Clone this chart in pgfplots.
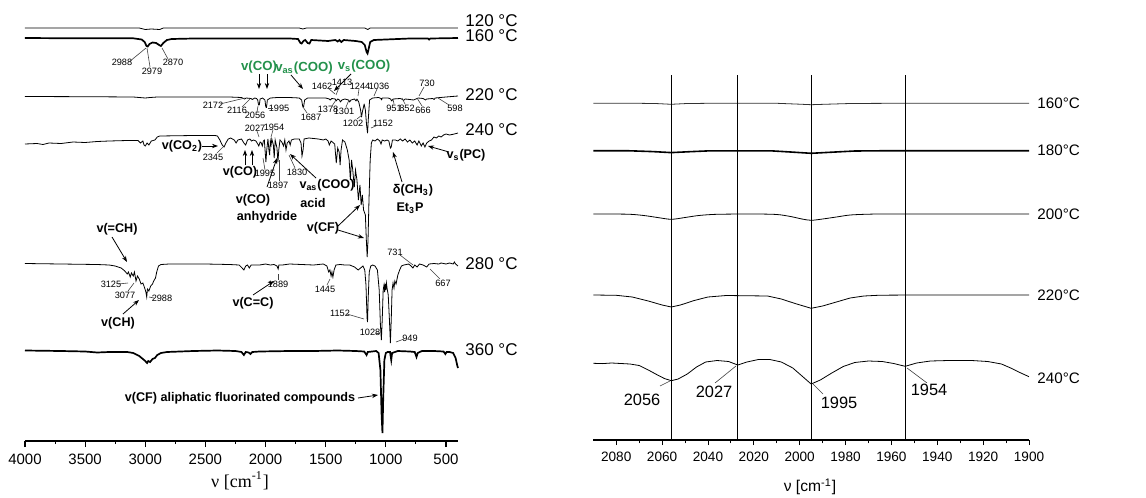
\documentclass[border=0pt]{standalone}
\usepackage{fontspec}
\setmainfont{Liberation Sans}
\newfontfamily\seriffont{Liberation Serif}
\usepackage{pgfplots}
\pgfplotsset{compat=1.18}
\usetikzlibrary{arrows.meta}
\definecolor{lblgreen}{RGB}{35,145,75}
\definecolor{rtrace}{RGB}{50,50,50}
\newcommand\sm{\fontsize{4.6}{5}\selectfont}
\newcommand\bl{\fontsize{6.3}{7}\selectfont\bfseries}
\newcommand\gl{\fontsize{6.6}{7}\selectfont\bfseries\color{lblgreen}}
\newcommand\tl{\fontsize{8.5}{10}\selectfont}
\newcommand\tr{\fontsize{7.6}{8}\selectfont}
\newcommand\rl{\fontsize{8.2}{9}\selectfont}
\newcommand\lab[3]{\node[font=\sm, inner sep=0pt] at (#1,#2) {#3};}
\newcommand\lead[4]{\draw[line width=0.3pt, black!75] (#1,#2)--(#3,#4);}
\newcommand\arr[4]{\draw[line width=0.4pt, -{Stealth[length=3pt,width=2.2pt]}] (#1,#2)--(#3,#4);}
\begin{document}
\begin{tikzpicture}
\path[use as bounding box] (0,0) rectangle (573pt,-249pt);
% ---------------- left panel ----------------
\begin{axis}[at={(12.5pt,-220.5pt)}, anchor=south west, scale only axis,
  width=216.5pt, height=213pt, xmin=400, xmax=4000, x dir=reverse,
  ymin=-441, ymax=-15, axis x line=bottom, axis y line=none,
  axis line style={-, line width=0.65pt},
  xtick={500,1000,...,4000}, minor x tick num=1, tick align=outside,
  major tick length=3pt, minor tick length=1.5pt,
  tick style={line width=0.55pt, black},
  ticklabel style={font=\fontsize{7.5}{8}\selectfont},
  /pgf/number format/1000 sep={}, /pgf/number format/assume math mode=true,
  clip=false,
  cycle list={{black, line width=0.85pt, line join=round, mark=none}}]
% 120 C
\addplot coordinates {(4000,-28)(3500,-28)(3050,-28)(3000,-29.5)(2950,-29)(2880,-29.5)(2850,-28)(1720,-28)(1690,-29)(1660,-28)(1175,-28)(1150,-29.5)(1130,-28)(400,-28)};
% 160 C
\addplot coordinates {(4000,-38)(3600,-38.3)(3100,-38.3)(3030,-39.5)(3005,-42)(2990,-46)(2980,-46.5)(2965,-44)(2940,-42.5)(2910,-43)(2885,-45)(2870,-46)(2850,-43)(2820,-40)(2780,-39)(2600,-38.5)(2000,-38.5)(1800,-38.5)(1730,-39)(1710,-43)(1700,-43.5)(1685,-41)(1670,-40)(1650,-43)(1635,-43.5)(1620,-40)(1550,-40.5)(1480,-41)(1420,-40)(1400,-41.5)(1385,-40)(1370,-42)(1350,-40)(1300,-40.5)(1250,-41)(1200,-42)(1175,-45)(1160,-52)(1152,-53.5)(1145,-50)(1130,-42)(1100,-40)(1000,-39.5)(900,-39)(800,-38.5)(650,-38.5)(640,-39.5)(630,-38.5)(400,-38)};
% 220 C
\addplot coordinates {(4000,-96.5)(3500,-96.7)(3100,-97)(3000,-98)(2960,-97.5)(2900,-97)(2500,-97)(2300,-97)(2200,-97.5)(2175,-99)(2160,-98)(2120,-98.5)(2110,-99.5)(2090,-98)(2075,-98.5)(2065,-100)(2058,-105)(2052,-105)(2045,-99)(2025,-98)(2005,-100)(1998,-107)(1992,-107.5)(1985,-100)(1960,-98)(1900,-97.5)(1800,-97.5)(1720,-98)(1700,-100)(1690,-107)(1684,-107)(1675,-100)(1650,-98)(1500,-98)(1470,-99)(1462,-100)(1450,-98.5)(1420,-99)(1413,-101)(1400,-99)(1385,-100)(1378,-102)(1365,-100)(1340,-99)(1310,-100)(1301,-102)(1290,-100)(1260,-99)(1248,-101)(1240,-99)(1225,-102)(1210,-110)(1202,-117)(1195,-112)(1180,-104)(1170,-110)(1160,-125)(1152,-133)(1146,-120)(1135,-100)(1110,-98)(1060,-97.5)(1040,-98.5)(1036,-100)(1030,-98)(980,-98)(960,-99)(951,-101)(940,-99)(880,-98.5)(860,-99.5)(852,-100.5)(840,-99)(800,-99.5)(770,-100)(740,-98.5)(730,-98)(690,-98.5)(670,-100)(660,-99)(610,-98.5)(598,-99.5)(590,-98)(500,-97)(450,-96.5)(400,-96)};
% 240 C
\addplot coordinates {(4000,-144)(3900,-143.5)(3850,-144.5)(3800,-143)(3700,-143.5)(3600,-142)(3500,-142.5)(3400,-141.5)(3300,-141)(3150,-140.5)(3060,-140.5)(3040,-143)(3020,-141)(3010,-145)(3000,-146)(2985,-143)(2970,-145)(2950,-141)(2920,-140)(2900,-137)(2880,-136)(2600,-135.5)(2420,-135.5)(2400,-136)(2380,-140)(2360,-145)(2345,-147)(2330,-143)(2310,-139)(2290,-138)(2260,-140)(2245,-143)(2230,-140)(2200,-139)(2180,-143)(2165,-145)(2150,-140)(2130,-139)(2116,-141)(2100,-140)(2080,-141)(2065,-144)(2056,-146)(2045,-142)(2035,-143)(2027,-146)(2018,-141)(2010,-140)(2003,-152)(1997,-162)(1990,-150)(1980,-139)(1972,-150)(1966,-155)(1960,-141)(1954,-145)(1948,-139)(1935,-145)(1928,-158)(1920,-140)(1905,-148)(1897,-162)(1890,-150)(1880,-140)(1865,-142)(1850,-146)(1840,-140)(1830,-150)(1820,-143)(1805,-141)(1795,-145)(1785,-140)(1760,-139)(1720,-139)(1705,-143)(1697,-156)(1688,-150)(1680,-139)(1640,-138)(1600,-138.5)(1560,-139)(1520,-140)(1500,-139)(1480,-141)(1470,-145)(1455,-141)(1425,-144)(1412,-163)(1400,-148)(1388,-152)(1380,-165)(1372,-150)(1360,-140)(1340,-142)(1320,-150)(1305,-160)(1295,-180)(1285,-160)(1275,-170)(1262,-187)(1252,-170)(1240,-180)(1228,-200)(1215,-185)(1205,-205)(1195,-195)(1185,-210)(1170,-215)(1162,-240)(1155,-257)(1148,-240)(1140,-200)(1130,-160)(1120,-143)(1110,-140)(1090,-141)(1070,-139)(1050,-141)(1040,-144)(1030,-140)(1010,-141)(990,-140)(975,-141)(962,-148)(955,-147)(945,-140)(920,-140)(900,-141)(880,-139)(860,-141)(840,-139)(820,-142)(800,-140)(780,-143)(760,-141)(740,-145)(725,-141)(705,-146)(690,-143)(675,-147)(660,-143)(640,-141)(620,-140)(600,-137)(580,-138)(560,-136)(540,-137)(520,-135)(500,-134)(470,-135)(430,-134)(400,-133)};
% 280 C
\addplot coordinates {(4000,-263.5)(3700,-264)(3400,-264.5)(3300,-265)(3250,-266)(3200,-268)(3170,-271)(3150,-274)(3140,-272)(3125,-277)(3115,-273)(3100,-276)(3090,-272)(3077,-281)(3065,-276)(3050,-279)(3035,-284)(3020,-283)(3005,-288)(2995,-292)(2988,-297)(2982,-289)(2970,-291)(2955,-286)(2940,-284)(2930,-281)(2915,-278)(2905,-272)(2890,-266)(2870,-264.5)(2800,-264)(2500,-264)(2300,-264.5)(2220,-265)(2195,-268)(2180,-270)(2165,-266)(2150,-265)(2135,-268)(2120,-265)(2050,-265)(2000,-264)(1960,-265)(1930,-264.5)(1905,-266)(1895,-269)(1889,-265)(1860,-265)(1800,-264)(1700,-264.5)(1600,-265)(1520,-264)(1490,-266)(1475,-272)(1465,-270)(1455,-276)(1448,-272)(1440,-277)(1430,-270)(1415,-265)(1380,-264.5)(1340,-265)(1300,-265)(1260,-267)(1230,-270)(1210,-268)(1190,-266)(1175,-270)(1165,-285)(1156,-318)(1152,-322)(1147,-300)(1138,-272)(1125,-266)(1110,-265)(1090,-266)(1070,-270)(1055,-290)(1045,-325)(1037,-340)(1030,-320)(1022,-290)(1015,-285)(1010,-292)(1005,-284)(1000,-290)(995,-283)(990,-288)(980,-295)(970,-320)(962,-343)(955,-320)(948,-290)(940,-283)(932,-288)(925,-281)(915,-284)(900,-275)(885,-270)(870,-266)(850,-265)(810,-264)(790,-266)(775,-268)(760,-265)(740,-267)(720,-264)(690,-265)(660,-267)(640,-264)(600,-263.5)(560,-264)(540,-263)(500,-264)(470,-263)(440,-264)(430,-262)(420,-264)(400,-266)};
% 360 C
\addplot coordinates {(4000,-350.5)(3700,-351)(3500,-351.5)(3400,-352.5)(3300,-352)(3150,-352)(3100,-353)(3050,-356)(3020,-359)(3000,-361)(2985,-363)(2975,-361)(2960,-362)(2940,-359)(2920,-358)(2900,-355)(2870,-353)(2820,-352)(2600,-351)(2400,-350.5)(2250,-351)(2200,-352)(2180,-355)(2165,-352)(2140,-352.5)(2125,-354)(2110,-352)(2050,-351.5)(1800,-351)(1600,-351)(1400,-350.5)(1250,-351)(1180,-351.5)(1160,-355)(1150,-352)(1080,-351)(1060,-353)(1045,-370)(1035,-415)(1028,-433)(1022,-400)(1012,-360)(1000,-353)(985,-352)(965,-352)(955,-360)(948,-353)(900,-351)(800,-351.5)(760,-352)(745,-357)(735,-353)(700,-351)(600,-351)(520,-351.5)(505,-354)(495,-352)(470,-352)(440,-353)(420,-358)(405,-366)(400,-368)};
\end{axis}
% ---------------- right panel ----------------
\begin{axis}[at={(296.65pt,-220pt)}, anchor=south west, scale only axis,
  width=217.85pt, height=185pt, xmin=1900, xmax=2090, x dir=reverse,
  ymin=-440, ymax=-70, axis x line=bottom, axis y line=none,
  axis line style={-, line width=0.55pt},
  xtick={1900,1920,...,2080}, minor x tick num=1, tick align=outside,
  major tick length=2.5pt, minor tick length=1.7pt,
  tick style={line width=0.45pt, black},
  ticklabel style={font=\fontsize{6.8}{7}\selectfont},
  /pgf/number format/1000 sep={}, /pgf/number format/assume math mode=true,
  clip=false,
  cycle list={{rtrace, line width=0.8pt, smooth, tension=0.5, mark=none}}]
\addplot coordinates {(2090,-103.3)(2070,-103.3)(2062,-103.6)(2056,-104.3)(2050,-103.6)(2040,-103.3)(2010,-103.3)(2002,-104)(1995,-104.7)(1988,-104.2)(1978,-103.5)(1960,-103.3)(1900,-103.3)};
\addplot coordinates {(2090,-150.7)(2074,-150.8)(2064,-151.6)(2056,-152.6)(2048,-151.7)(2040,-150.9)(2012,-150.9)(2004,-152)(1995,-153.3)(1986,-152.2)(1976,-151)(1960,-150.7)(1900,-150.7)};
\addplot coordinates {(2090,-214)(2075,-214.2)(2068,-215.5)(2062,-217.5)(2056,-219.3)(2050,-217.5)(2044,-215.5)(2036,-214.3)(2020,-214)(2010,-214.5)(2004,-216.5)(1999,-219)(1995,-220.3)(1990,-219)(1984,-217)(1978,-215)(1970,-214.2)(1960,-214)(1900,-214)};
\addplot coordinates {(2090,-295)(2080,-295.3)(2073,-297)(2066,-301)(2060,-305)(2056,-307)(2052,-305)(2046,-300.5)(2040,-297)(2032,-295.5)(2014,-296)(2008,-299)(2002,-303.5)(1995,-308.3)(1990,-306)(1984,-302)(1978,-298)(1972,-296)(1965,-295.2)(1950,-295)(1900,-295)};
\addplot coordinates {(2090,-363.3)(2086,-363.6)(2082,-363)(2078,-363.5)(2074,-364)(2070,-365.5)(2066,-370)(2062,-375)(2059,-378.5)(2056,-380.7)(2053,-379)(2049,-374)(2045,-367)(2041,-362)(2036,-360.5)(2031,-361.5)(2027,-365)(2023,-362)(2018,-359.5)(2013,-359.5)(2008,-362)(2003,-368)(1999,-376)(1995,-384)(1991,-380)(1986,-373)(1981,-366.5)(1976,-362.5)(1970,-361)(1964,-361.5)(1959,-363.5)(1954,-366.3)(1949,-363)(1943,-361)(1935,-360.5)(1925,-360.5)(1918,-361.5)(1912,-364)(1908,-368)(1904,-372.5)(1900,-376.7)};
\foreach \v in {2056,2027,1995,1954} {
  \edef\tmp{\noexpand\draw[black, line width=0.5pt] (axis cs:\v,-75) -- (axis cs:\v,-440);}\tmp
}
\end{axis}
% ---------------- annotations (pixel coordinates) ----------------
\begin{scope}[x=0.5pt, y=-0.5pt]
% left temperature labels
\foreach \t/\yy in {120/20.5, 160/35.5, 220/95, 240/130, 280/264, 360/350}
  \node[font=\tl, anchor=west, inner sep=0pt] at (465,\yy) {\t\ °C};
% right temperature labels
\foreach \t/\yy in {160/103.3, 180/150.7, 200/214, 220/295, 240/378}
  \node[font=\tr, anchor=west, inner sep=0pt] at (1037,\yy) {\t°C};
% axis titles
\node[font=\seriffont\fontsize{9}{10}\selectfont, inner sep=0pt] at (240,481) {ν [cm\textsuperscript{-1}]};
\node[font=\fontsize{7.8}{9}\selectfont, inner sep=0pt] at (810,487) {ν [cm\textsuperscript{-1}]};
% right panel labels
\node[font=\rl, inner sep=0pt] at (642,400) {2056};
\node[font=\rl, inner sep=0pt] at (714,392) {2027};
\node[font=\rl, inner sep=0pt] at (839,403) {1995};
\node[font=\rl, inner sep=0pt] at (929,390) {1954};
\lead{660}{386}{670}{381}
\lead{715}{383}{736}{366}
\lead{823}{394}{813}{384}
\lead{927}{383}{907}{368}
% green labels
\node[font=\gl, inner sep=0pt] at (259,67) {v(CO)};
\node[font=\gl, inner sep=0pt] at (304,68) {v\textsubscript{as}(COO)};
\node[font=\gl, inner sep=0pt] at (364,66) {v\textsubscript{s}(COO)};
\arr{259}{74}{259}{89}
\arr{267}{74}{267}{89}
\arr{291}{75}{303}{89}
\arr{351}{74}{334}{91}
% small labels
\lab{122}{62}{2988}\lead{129}{62}{146}{48}
\lab{152}{71}{2979}\lead{150}{67}{147}{48}
\lab{173}{62}{2870}\lead{168}{59}{162}{48}
\lab{213}{105}{2172}\lead{220}{104}{245}{98}
\lab{237}{110}{2116}\lead{242}{107}{250}{99}
\lab{255}{115}{2056}\lead{257}{112}{258}{106}
\lab{279}{108}{1995}\lead{268}{108}{273}{108}
\lab{311}{117}{1687}\lead{307}{113}{303}{107}
\lab{322}{86}{1462}\lead{328}{88}{335}{94}
\lab{342}{82}{1413}\lead{340}{85}{336}{95}
\lab{328}{109}{1378}\lead{332}{106}{336}{100}
\lab{344}{111}{1301}\lead{346}{107}{349}{100}
\lab{360}{86}{1244}\lead{359}{89}{358}{96}
\lab{379}{86}{1036}\lead{377}{89}{374}{96}
\lab{427}{83}{730}\lead{424}{87}{419}{96}
\lab{394}{108}{951}\lead{394}{104}{393}{99}
\lab{407}{108}{852}\lead{405}{104}{402}{98}
\lab{423}{110}{666}\lead{422}{106}{417}{98}
\lab{455}{108}{598}\lead{449}{105}{438}{98}
\lab{353}{123}{1202}\lead{357}{119}{362}{115}
\lab{383}{123}{1152}\lead{378}{125}{371}{128}
\lab{255}{128}{2027}\lead{257}{131}{259}{137}
\lab{274}{127}{1954}\lead{273}{130}{271}{137}
\lab{213}{157}{2345}\lead{217}{153}{223}{147}
\lab{265}{173}{1995}\lead{265}{170}{263}{158}
\lab{278}{185}{1897}\lead{279}{181}{279}{160}
\lab{297}{172}{1830}\lead{295}{168}{289}{155}
\lab{395}{252}{731}\lead{400}{255}{413}{265}
\lab{443}{283}{667}\lead{440}{279}{430}{269}
\lab{111}{284}{3125}\lead{118}{284}{128}{283}
\lab{125}{295}{3077}\lead{128}{291}{134}{283}
\lab{162}{298}{2988}\lead{154}{298}{149}{297}
\lab{278}{284}{1889}\lead{278}{280}{278}{274}
\lab{325}{289}{1445}\lead{327}{285}{330}{279}
\lab{340}{313}{1152}\lead{347}{314}{364}{319}
\lab{370}{332}{1028}\lead{376}{333}{380}{333}
\lab{410}{338}{949}\lead{404}{339}{396}{342}
% bold black labels
\node[font=\bl, inner sep=0pt] at (182,146) {v(CO\textsubscript{2})};
\arr{202}{146}{218}{146}
\node[font=\bl, inner sep=0pt] at (240,172) {v(CO)};
\arr{245}{165}{245}{150}
\arr{252}{165}{252}{150}
\node[font=\bl, inner sep=0pt] at (253,200) {v(CO)};
\node[font=\bl, inner sep=0pt] at (267,217) {anhydride};
\arr{267}{187}{277}{158}
\node[font=\bl, inner sep=0pt] at (327,185) {v\textsubscript{as}(COO)};
\node[font=\bl, inner sep=0pt] at (313,203) {acid};
\arr{316}{178}{290}{154}
\node[font=\bl, inner sep=0pt] at (323,228) {v(CF)};
\arr{338}{226}{360}{205}
\arr{338}{230}{364}{238}
\node[font=\bl, inner sep=0pt] at (413,190) {δ(CH\textsubscript{3})};
\node[font=\bl, inner sep=0pt] at (410,208) {Et\textsubscript{3}P};
\arr{402}{182}{393}{152}
\node[font=\bl, inner sep=0pt] at (466,155) {v\textsubscript{s}(PC)};
\arr{449}{152}{428}{146}
\node[font=\bl, inner sep=0pt] at (117,229) {v(=CH)};
\arr{112}{237}{127}{262}
\node[font=\bl, inner sep=0pt] at (118,323) {v(CH)};
\arr{123}{314}{139}{300}
\node[font=\bl, inner sep=0pt] at (253,303) {v(C=C)};
\arr{253}{295}{274}{281}
\node[font=\bl, inner sep=0pt] at (240,398) {v(CF) aliphatic fluorinated compounds};
\arr{358}{398}{378}{395}
\end{scope}
\end{tikzpicture}
\end{document}
